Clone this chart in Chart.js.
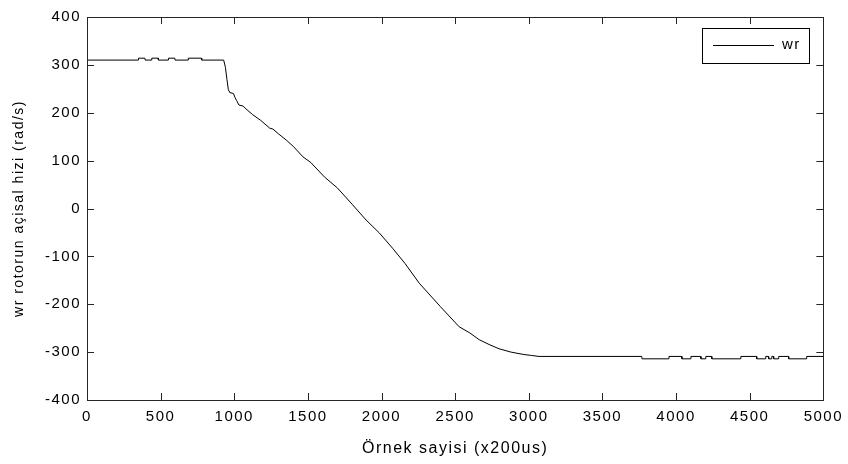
<!DOCTYPE html>
<html>
<head>
<meta charset="utf-8">
<script src="https://cdn.jsdelivr.net/npm/chart.js@4.4.1/dist/chart.umd.min.js"></script>
<style>
  html, body { margin: 0; padding: 0; background: #fff; }
  #wrap { width: 848px; height: 464px; }
</style>
</head>
<body>
<div id="wrap"><canvas id="c" width="848" height="464"></canvas></div>
<script>
// sample index (x200us) and rotor speed wr (rad/s)
var sampleIdx = [0, 348, 350, 393, 395, 438, 440, 483, 485, 551, 553, 596, 598, 686, 688, 777, 779, 928,
  940, 950, 960, 970, 985, 995, 1005, 1015, 1032, 1060, 1080, 1125, 1180, 1240, 1262, 1300, 1353, 1400,
  1466, 1520, 1612, 1700, 1800, 1895, 1985, 2075, 2160, 2256, 2400, 2527, 2600, 2663, 2730, 2798, 2880,
  2967, 3020, 3069, 3767, 3769, 3950, 3952, 4038, 4040, 4099, 4101, 4167, 4169, 4200, 4202, 4241, 4243,
  4438, 4440, 4546, 4548, 4607, 4609, 4627, 4629, 4648, 4650, 4661, 4663, 4695, 4697, 4763, 4765, 4885,
  4887, 5000];
var wrValues = [310, 310, 314, 314, 310, 310, 314, 314, 310, 310, 314, 314, 310, 310, 314, 314, 310, 310,
  295, 270, 248, 242, 241, 240, 232, 226, 216, 214, 208, 196, 184, 168, 166, 156, 143, 130,
  108, 96, 66, 43, 9, -24, -51, -83, -115, -156, -205, -247, -260, -274, -284, -293, -300,
  -305, -307, -309, -309, -314, -314, -309, -309, -314, -314, -309, -309, -314, -314, -309, -309, -314,
  -314, -309, -309, -314, -314, -309, -309, -314, -314, -309, -309, -314, -314, -309, -309, -314, -314,
  -309, -309];
var xTicks = [0, 500, 1000, 1500, 2000, 2500, 3000, 3500, 4000, 4500, 5000];
var yTicks = [-400, -300, -200, -100, 0, 100, 200, 300, 400];

var points = sampleIdx.map(function (x, i) { return { x: x, y: wrValues[i] }; });
var axisColor = '#262626';
var fontFamily = '"Liberation Sans", Arial, sans-serif';

// wider text spacing, like the original rendering
var spacingPlugin = {
  id: 'spacing',
  beforeDraw: function (chart) { chart.ctx.letterSpacing = '1.5px'; }
};

// MATLAB style box with inward ticks and legend inside the axes
var boxPlugin = {
  id: 'box',
  afterDraw: function (chart) {
    var ctx = chart.ctx, a = chart.chartArea;
    var xs = chart.scales.x, ys = chart.scales.y;
    var len = 7;
    ctx.save();
    ctx.strokeStyle = axisColor;
    ctx.lineWidth = 1;
    ctx.strokeRect(Math.round(a.left) + 0.5, Math.round(a.top) + 0.5,
                   Math.round(a.right - a.left), Math.round(a.bottom - a.top));
    ctx.beginPath();
    xTicks.forEach(function (v) {
      var px = Math.round(xs.getPixelForValue(v)) + 0.5;
      ctx.moveTo(px, a.bottom); ctx.lineTo(px, a.bottom - len);
      ctx.moveTo(px, a.top); ctx.lineTo(px, a.top + len);
    });
    yTicks.forEach(function (v) {
      var py = Math.round(ys.getPixelForValue(v)) + 0.5;
      ctx.moveTo(a.left, py); ctx.lineTo(a.left + len, py);
      ctx.moveTo(a.right, py); ctx.lineTo(a.right - len, py);
    });
    ctx.stroke();

    // legend
    var lx = 702, ly = 28, lw = 107, lh = 35;
    ctx.fillStyle = '#fff';
    ctx.fillRect(lx, ly, lw, lh);
    ctx.strokeStyle = '#000';
    ctx.strokeRect(lx + 0.5, ly + 0.5, lw, lh);
    ctx.beginPath();
    ctx.moveTo(713, 45.5); ctx.lineTo(774, 45.5);
    ctx.stroke();
    ctx.fillStyle = '#000';
    ctx.font = '15px ' + fontFamily;
    ctx.textBaseline = 'middle';
    ctx.fillText(chart.data.datasets[0].label, 782, 45);
    ctx.restore();
  }
};

new Chart(document.getElementById('c').getContext('2d'), {
  type: 'line',
  data: {
    datasets: [{
      label: 'wr',
      data: points,
      borderColor: '#000',
      borderWidth: 1,
      pointRadius: 0,
      tension: 0,
      fill: false
    }]
  },
  options: {
    responsive: false,
    animation: false,
    layout: { padding: { top: 17, right: 23, left: 0, bottom: 0 } },
    plugins: { legend: { display: false }, tooltip: { enabled: false } },
    scales: {
      x: {
        type: 'linear',
        min: 0, max: 5000,
        afterFit: function (s) { s.height = 64; },
        afterBuildTicks: function (s) { s.ticks = xTicks.map(function (v) { return { value: v }; }); },
        grid: { display: false, drawTicks: false },
        border: { display: false },
        ticks: {
          color: '#000', padding: 8, maxRotation: 0, font: { size: 15, family: fontFamily },
          callback: function (v) { return String(v); }
        },
        title: {
          display: true, text: 'Örnek sayisi (x200us)', color: '#000',
          font: { size: 16, family: fontFamily }, padding: { top: 0, bottom: 6 }
        }
      },
      y: {
        type: 'linear',
        min: -400, max: 400,
        afterFit: function (s) { s.width = 87; },
        afterBuildTicks: function (s) { s.ticks = yTicks.map(function (v) { return { value: v }; }); },
        grid: { display: false, drawTicks: false },
        border: { display: false },
        ticks: {
          color: '#000', padding: 6, font: { size: 15, family: fontFamily },
          callback: function (v) { return String(v); }
        },
        title: {
          display: true, text: 'wr rotorun açisal hizi (rad/s)', color: '#000',
          font: { size: 14, family: fontFamily }, padding: { top: 11, bottom: 0 }
        }
      }
    }
  },
  plugins: [spacingPlugin, boxPlugin]
});
</script>
</body>
</html>
